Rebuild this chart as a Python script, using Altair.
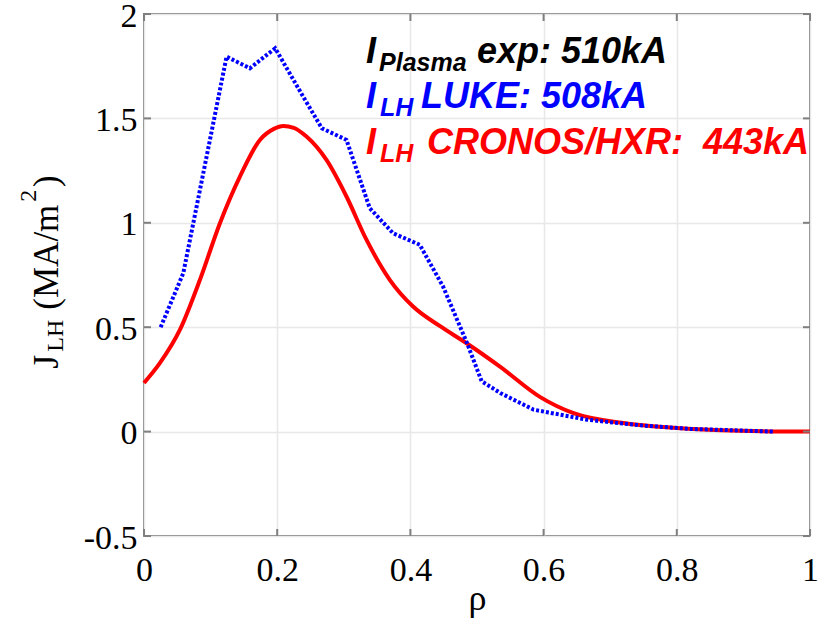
import altair as alt
import pandas as pd

# --- data ---
cronos_rho = [0.0, 0.024, 0.054, 0.084, 0.114, 0.144, 0.174, 0.195, 0.209, 0.225, 0.244,
              0.274, 0.304, 0.334, 0.369, 0.404, 0.444, 0.485, 0.535, 0.595, 0.645,
              0.72, 0.795, 0.895, 1.0]
cronos_j = [0.233, 0.329, 0.488, 0.727, 0.998, 1.221, 1.397, 1.45, 1.464, 1.455, 1.413,
            1.301, 1.126, 0.919, 0.727, 0.599, 0.506, 0.422, 0.31, 0.165, 0.088,
            0.041, 0.018, 0.004, 0.0]

luke_rho = [0.025, 0.059, 0.124, 0.159, 0.197, 0.239, 0.267, 0.304, 0.339, 0.374, 0.414,
            0.449, 0.485, 0.507, 0.535, 0.585, 0.665, 0.745, 0.82, 0.945]
luke_j = [0.50, 0.759, 1.796, 1.74, 1.836, 1.604, 1.453, 1.397, 1.07, 0.95, 0.895,
          0.695, 0.424, 0.241, 0.185, 0.105, 0.057, 0.03, 0.013, 0.0]

x_ticks = [0, 0.2, 0.4, 0.6, 0.8, 1]
y_ticks = [-0.5, 0, 0.5, 1, 1.5, 2]

# annotation pieces (text, rho, J, size, colour)
ann_text = ["I", "Plasma", "exp: 510kA",
            "I", "LH", "LUKE: 508kA",
            "I", "LH", "CRONOS/HXR:\u00a0 443kA"]
ann_x = [0.3333, 0.3529, 0.500, 0.3333, 0.3544, 0.4159, 0.3333, 0.3544, 0.4249]
ann_y = [1.766, 1.727, 1.766, 1.550, 1.512, 1.550, 1.330, 1.292, 1.330]
ann_size = [36, 25, 36, 36, 25, 36, 36, 25, 36]
ann_color = ["black", "black", "black", "blue", "blue", "blue", "red", "red", "red"]

# y-axis title pieces
yt_text = ["J", "LH", "(MA/m", "2", ")"]
yt_x = [-0.1291, -0.1216, -0.1291, -0.1622, -0.1291]
yt_y = [0.301, 0.383, 0.584, 1.101, 1.172]
yt_size = [36, 24, 35, 24, 35]

W, H = 666, 522

cronos = pd.DataFrame({"rho": cronos_rho, "J": cronos_j})
luke = pd.DataFrame({"rho": luke_rho, "J": luke_j})
ann = pd.DataFrame({"t": ann_text, "x": ann_x, "y": ann_y, "s": ann_size, "c": ann_color})
yt = pd.DataFrame({"t": yt_text, "x": yt_x, "y": yt_y, "s": yt_size})
xt = pd.DataFrame({"v": x_ticks})
ytk = pd.DataFrame({"v": y_ticks})

xscale = alt.Scale(domain=[0, 1], nice=False, zero=False)
yscale = alt.Scale(domain=[-0.5, 2], nice=False, zero=False)

xaxis = alt.Axis(values=x_ticks, labelExpr="'' + datum.value", title="ρ", grid=True,
                 gridColor="#e8e8e8", gridWidth=1.5, domain=False, ticks=False, tickSize=0,
                 labelFont="Liberation Serif", labelFontSize=34, labelColor="black",
                 labelPadding=17, labelFlush=False,
                 titleFont="Liberation Serif", titleFontSize=36, titleFontWeight="normal",
                 titleColor="black", titlePadding=-6)
yaxis = alt.Axis(values=y_ticks, labelExpr="'' + datum.value", title=None, grid=True,
                 gridColor="#e8e8e8", gridWidth=1.5, domain=False, ticks=False, tickSize=0,
                 labelFont="Liberation Serif", labelFontSize=34, labelColor="black",
                 labelPadding=7, labelOffset=2, labelFlush=False)

base_x = alt.X("rho:Q", scale=xscale, axis=xaxis)
base_y = alt.Y("J:Q", scale=yscale, axis=yaxis)

red = alt.Chart(cronos).mark_line(color="#ff0000", strokeWidth=4, interpolate="monotone").encode(
    x=base_x, y=base_y)
blue = alt.Chart(luke).mark_line(color="#0000ff", strokeWidth=4, strokeDash=[3, 2]).encode(
    x=alt.X("rho:Q", scale=xscale), y=alt.Y("J:Q", scale=yscale))

tick_style = dict(color="#7f7f7f", strokeWidth=2)
xt_bottom = alt.Chart(xt).mark_rule(**tick_style).encode(
    x=alt.X("v:Q", scale=xscale), y=alt.value(H), y2=alt.value(H - 7))
xt_top = alt.Chart(xt).mark_rule(**tick_style).encode(
    x=alt.X("v:Q", scale=xscale), y=alt.value(0), y2=alt.value(7))
yt_left = alt.Chart(ytk).mark_rule(**tick_style).encode(
    y=alt.Y("v:Q", scale=yscale), x=alt.value(0), x2=alt.value(7))
yt_right = alt.Chart(ytk).mark_rule(**tick_style).encode(
    y=alt.Y("v:Q", scale=yscale), x=alt.value(W), x2=alt.value(W - 7))

ann_layer = alt.Chart(ann).mark_text(font="Liberation Sans", fontWeight="bold", fontStyle="italic",
                                     align="left", baseline="alphabetic").encode(
    x=alt.X("x:Q", scale=xscale), y=alt.Y("y:Q", scale=yscale), text="t:N",
    size=alt.Size("s:Q", scale=None, legend=None),
    color=alt.Color("c:N", scale=None, legend=None))

yt_layer = alt.Chart(yt).mark_text(font="Liberation Serif", align="left", baseline="alphabetic",
                                   angle=270, color="black").encode(
    x=alt.X("x:Q", scale=xscale), y=alt.Y("y:Q", scale=yscale), text="t:N",
    size=alt.Size("s:Q", scale=None, legend=None))

chart = alt.layer(red, blue, xt_bottom, xt_top, yt_left, yt_right, ann_layer, yt_layer).properties(
    width=W, height=H,
    autosize=alt.AutoSizeParams(type="none"),
    padding={"left": 144, "top": 14, "right": 13, "bottom": 86},
    background="white",
).configure_view(stroke="#7f7f7f", strokeWidth=2)

chart.save("out.html", embed_options={"renderer": "svg", "actions": False})
